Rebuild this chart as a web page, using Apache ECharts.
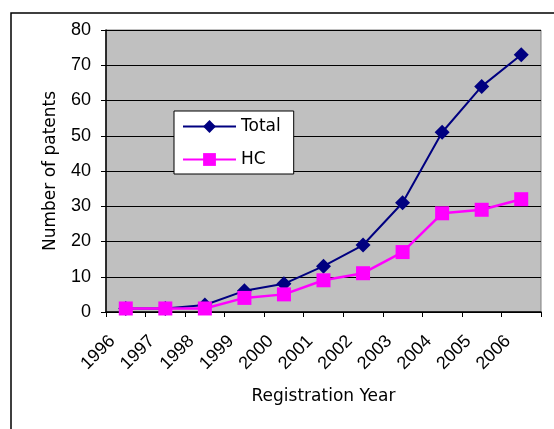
<!DOCTYPE html>
<html><head><meta charset="utf-8">
<script src="https://cdn.jsdelivr.net/npm/echarts@6/dist/echarts.min.js"></script>
<style>html,body{margin:0;padding:0;background:#fff}#c{width:554px;height:429px}</style>
</head><body><div id="c"></div>
<script>
var years = ['1996','1997','1998','1999','2000','2001','2002','2003','2004','2005','2006'];
var totalValues = [1, 1, 2, 6, 8, 13, 19, 31, 51, 64, 73];
var hcValues = [1, 1, 1, 4, 5, 9, 11, 17, 28, 29, 32];
var yTicks = [0, 10, 20, 30, 40, 50, 60, 70, 80];

var NUMFONT = '"Liberation Sans", Arial, sans-serif';
var TXTFONT = '"DejaVu Sans", sans-serif';
var chart = echarts.init(document.getElementById('c'));
chart.setOption({
  animation: false,
  textStyle: {fontFamily: NUMFONT},
  graphic: [{
    type: 'rect', z: -10,
    shape: {x: 11, y: 13, width: 560, height: 440},
    style: {fill: '#fff', stroke: '#000', lineWidth: 1.5}
  }],
  grid: {left: 106, top: 30, right: 13, bottom: 117, show: true,
         backgroundColor: '#C0C0C0', borderColor: '#808080', borderWidth: 1},
  legend: {
    left: 174, top: 111, orient: 'vertical',
    backgroundColor: '#fff', borderColor: '#000', borderWidth: 1,
    padding: [7, 13, 6, 8], itemGap: 16, itemWidth: 53, itemHeight: 16,
    textStyle: {fontSize: 17, color: '#000', fontFamily: TXTFONT},
    data: ['Total', 'HC']
  },
  xAxis: {
    type: 'category', data: years, boundaryGap: true,
    name: 'Registration Year', nameLocation: 'middle', nameGap: 76,
    nameTextStyle: {fontSize: 17, color: '#000', fontFamily: TXTFONT},
    axisLine: {lineStyle: {color: '#000', width: 1.5}},
    axisTick: {show: true, length: 5, inside: false, lineStyle: {color: '#000'}},
    axisLabel: {rotate: 45, fontSize: 18, color: '#000', margin: 13, padding: [0, 19, 0, 0]},
    splitLine: {show: false}
  },
  yAxis: {
    type: 'value', min: yTicks[0], max: yTicks[yTicks.length - 1], interval: 10,
    name: 'Number of patents', nameLocation: 'middle', nameGap: 47,
    nameTextStyle: {fontSize: 17, color: '#000', fontFamily: TXTFONT},
    axisLine: {show: true, lineStyle: {color: '#000', width: 1.5}},
    axisTick: {show: true, length: 5, lineStyle: {color: '#000'}},
    axisLabel: {fontSize: 18, color: '#000', margin: 15},
    splitLine: {show: true, lineStyle: {color: '#000', width: 1}}
  },
  series: [{
    name: 'Total', type: 'line', data: totalValues,
    symbol: 'diamond', symbolSize: 15,
    lineStyle: {color: '#000080', width: 2},
    itemStyle: {color: '#000080'}, z: 3
  }, {
    name: 'HC', type: 'line', data: hcValues,
    symbol: 'rect', symbolSize: 14,
    lineStyle: {color: '#FF00FF', width: 2.5},
    itemStyle: {color: '#FF00FF'}, z: 4
  }]
});
</script></body></html>
